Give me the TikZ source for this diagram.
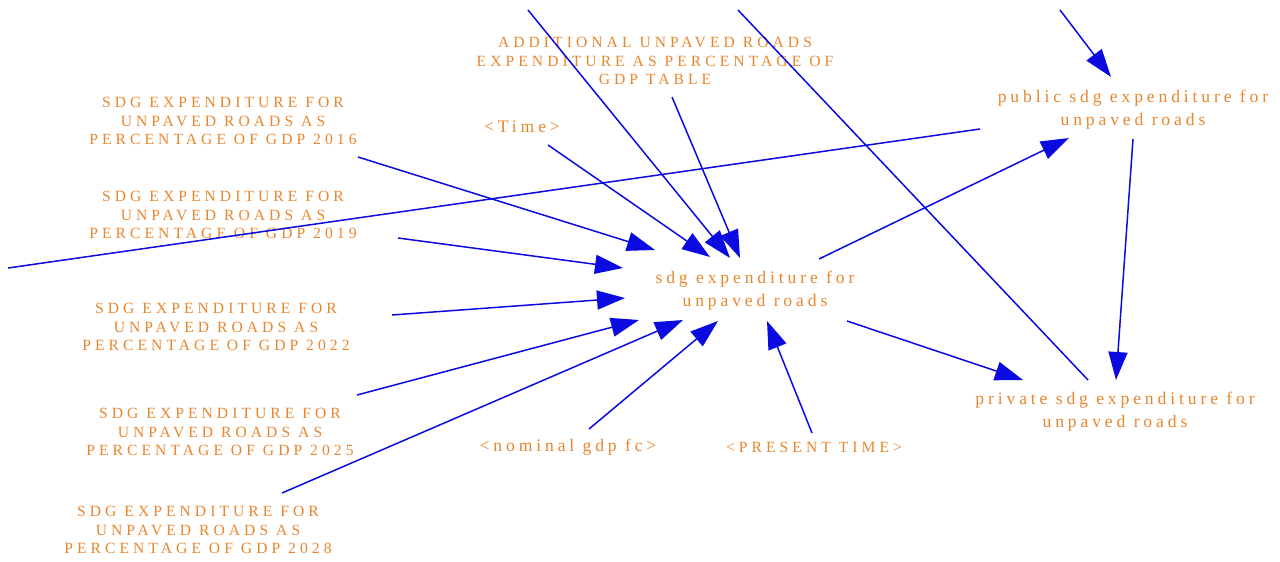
\documentclass[tikz,border=0pt]{standalone}
\usepackage{fontspec}
\setmainfont{Liberation Serif}
\newfontfamily\capsf{Liberation Serif}[LetterSpace=26]
\newfontfamily\lowf{Liberation Serif}[LetterSpace=22]
\usetikzlibrary{arrows.meta}
\definecolor{vorange}{RGB}{232,134,46}
\definecolor{vblue}{RGB}{10,10,225}
\tikzset{
  capsvar/.style={text=vorange, align=center, inner sep=0pt, font=\capsf\fontsize{15.6}{18.4}\selectfont},
  lowvar/.style={text=vorange, align=center, inner sep=0pt, font=\lowf\fontsize{17.6}{22.8}\selectfont},
  link/.style={draw=vblue, line width=1.5pt, -{Triangle[length=28pt,width=19pt]}},
  plainlink/.style={draw=vblue, line width=1.5pt}
}
\begin{document}
\begin{tikzpicture}[x=1pt,y=-1pt]
\useasboundingbox (0,0) rectangle (1280,562);
% nodes
\node[lowvar] (S) at (755,291) {sdg expenditure for\\unpaved roads};
\node[lowvar] (P) at (1133,110) {public sdg expenditure for\\unpaved roads};
\node[lowvar] (V) at (1115,412) {private sdg expenditure for\\unpaved roads};
\node[capsvar] (A) at (655,61) {ADDITIONAL UNPAVED ROADS\\EXPENDITURE AS PERCENTAGE OF\\GDP TABLE};
\node[lowvar] (T) at (522,127) {<Time>};
\node[capsvar] (s16) at (223,121) {SDG EXPENDITURE FOR\\UNPAVED ROADS AS\\PERCENTAGE OF GDP 2016};
\node[capsvar] (s19) at (223,215) {SDG EXPENDITURE FOR\\UNPAVED ROADS AS\\PERCENTAGE OF GDP 2019};
\node[capsvar] (s22) at (216,327) {SDG EXPENDITURE FOR\\UNPAVED ROADS AS\\PERCENTAGE OF GDP 2022};
\node[capsvar] (s25) at (220,432) {SDG EXPENDITURE FOR\\UNPAVED ROADS AS\\PERCENTAGE OF GDP 2025};
\node[capsvar] (s28) at (198,530) {SDG EXPENDITURE FOR\\UNPAVED ROADS AS\\PERCENTAGE OF GDP 2028};
\node[lowvar] (N) at (568,447) {<nominal gdp fc>};
\node[capsvar] (PT) at (814,447) {<PRESENT TIME>};
\coordinate (top1) at (528,10);
\coordinate (top2) at (738,10);
\coordinate (top3) at (1060,10);
\coordinate (leftend) at (8,268);
% connectors
\draw[link] ([shift={(135,36)}]s16.center) -- ([shift={(-100,-41)}]S.center);
\draw[link] ([shift={(175,23)}]s19.center) -- ([shift={(-132,-23)}]S.center);
\draw[link] ([shift={(176,-12)}]s22.center) -- ([shift={(-130,7)}]S.center);
\draw[link] ([shift={(137,-37)}]s25.center) -- ([shift={(-116,29)}]S.center);
\draw[link] ([shift={(84,-37)}]s28.center) -- ([shift={(-72,29)}]S.center);
\draw[link] ([shift={(21,-18)}]N.center) -- ([shift={(-37,30)}]S.center);
\draw[link] ([shift={(-2,-14)}]PT.center) -- ([shift={(12,30)}]S.center);
\draw[link] ([shift={(26,18)}]T.center) -- ([shift={(-45,-34)}]S.center);
\draw[link] (top1) -- ([shift={(-25,-33)}]S.center);
\draw[link] ([shift={(17,36)}]A.center) -- ([shift={(-15,-33)}]S.center);
\draw[link] ([shift={(64,-32)}]S.center) -- ([shift={(-64,28)}]P.center);
\draw[link] ([shift={(92,30)}]S.center) -- ([shift={(-92,-32)}]V.center);
\draw[link] ([shift={(0,29)}]P.center) -- ([shift={(1,-32)}]V.center);
\draw[link] (top3) -- ([shift={(-22,-33)}]P.center);
\draw[plainlink] ([shift={(-153,19)}]P.center) -- (leftend);
\draw[plainlink] (top2) -- ([shift={(-27,-32)}]V.center);
\end{tikzpicture}
\end{document}
